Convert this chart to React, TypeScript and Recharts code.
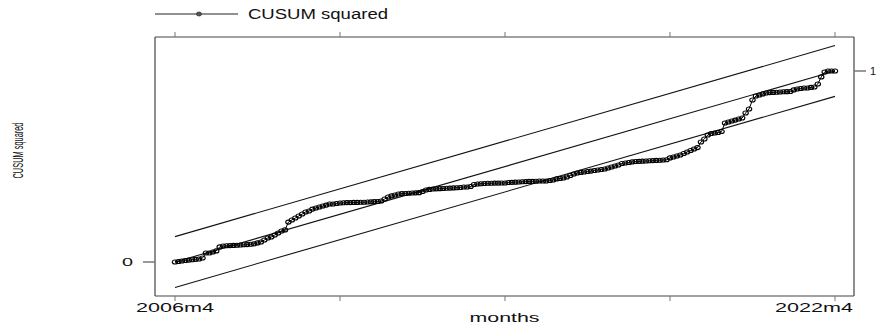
import { LineChart, Line, XAxis, YAxis, Legend } from "recharts"

const FONT = "'Liberation Sans', Arial, Helvetica, sans-serif"

// CUSUM squared, one value per month from 2006m4 (index 0) to 2022m4 (index 192)
const cusumSquared = [
  0, 0.003, 0.005, 0.008, 0.01, 0.012, 0.014, 0.016, 0.021, 0.047, 0.047, 0.052,
  0.058, 0.079, 0.084, 0.085, 0.086, 0.087, 0.088, 0.089, 0.09, 0.091, 0.093, 0.095,
  0.1, 0.105, 0.115, 0.126, 0.131, 0.141, 0.152, 0.162, 0.168, 0.209, 0.22, 0.23,
  0.241, 0.251, 0.262, 0.267, 0.277, 0.283, 0.288, 0.293, 0.298, 0.304, 0.304, 0.306,
  0.309, 0.31, 0.311, 0.311, 0.312, 0.312, 0.313, 0.313, 0.314, 0.315, 0.316, 0.317,
  0.319, 0.33, 0.34, 0.346, 0.351, 0.356, 0.358, 0.359, 0.36, 0.361, 0.362, 0.363,
  0.369, 0.377, 0.38, 0.382, 0.383, 0.384, 0.385, 0.386, 0.387, 0.388, 0.389, 0.39,
  0.393, 0.393, 0.395, 0.406, 0.408, 0.41, 0.411, 0.412, 0.412, 0.413, 0.413, 0.414,
  0.414, 0.416, 0.417, 0.418, 0.419, 0.42, 0.421, 0.422, 0.422, 0.423, 0.424, 0.424,
  0.424, 0.427, 0.429, 0.435, 0.437, 0.44, 0.445, 0.453, 0.461, 0.466, 0.469, 0.471,
  0.474, 0.476, 0.479, 0.482, 0.484, 0.487, 0.492, 0.497, 0.503, 0.508, 0.516, 0.518,
  0.521, 0.524, 0.526, 0.527, 0.528, 0.529, 0.53, 0.531, 0.532, 0.533, 0.534, 0.535,
  0.545, 0.55, 0.555, 0.56, 0.568, 0.576, 0.584, 0.592, 0.599, 0.628, 0.644, 0.665,
  0.673, 0.675, 0.678, 0.683, 0.728, 0.733, 0.738, 0.743, 0.749, 0.754, 0.78, 0.801,
  0.848, 0.869, 0.874, 0.88, 0.885, 0.887, 0.888, 0.889, 0.89, 0.891, 0.892, 0.893,
  0.901, 0.906, 0.908, 0.911, 0.911, 0.914, 0.916, 0.932, 0.969, 0.995, 1, 1,
  1,
]

// straight reference lines: expected path and 5% bounds, at first and last month
const boundMonths = [0, 192]
const expectedLine = [0, 1]
const upperBound = [0.133, 1.133]
const lowerBound = [-0.133, 0.867]

const xTicks = [0, 48, 96, 144, 192]
const xTickLabels = ["2006m4", "", "", "", "2022m4"]
const leftTicks = [0]
const leftTickLabels = ["0"]
const rightTicks = [1]
const rightTickLabels = ["1"]

const xDomain = [-5.82, 197.53]
const yDomain = [-0.178, 1.178]

const seriesData = cusumSquared.map((v, i) => ({ m: i, v }))
const boundsData = boundMonths.map((m, k) => ({
  m,
  expected: expectedLine[k],
  upper: upperBound[k],
  lower: lowerBound[k],
}))

const BottomTick = (props: any) => {
  const { x, y, payload, index } = props
  const label = xTickLabels[xTicks.indexOf(payload.value)] || ""
  if (!label) return <g />
  const last = index === xTicks.length - 1
  return (
    <text
      x={last ? x + 18 : x}
      y={y + 9}
      textAnchor={last ? "end" : "middle"}
      fontFamily={FONT}
      fontSize={13}
      fill="#111"
      textLength={78}
      lengthAdjust="spacingAndGlyphs"
    >
      {label}
    </text>
  )
}

const EmptyTick = () => <g />

const LeftTick = (props: any) => {
  const { x, y, payload } = props
  const label = leftTickLabels[leftTicks.indexOf(payload.value)] || ""
  return (
    <text x={x} y={y + 4} textAnchor="end" fontFamily={FONT} fontSize={10} fill="#111" textLength={11} lengthAdjust="spacingAndGlyphs">
      {label}
    </text>
  )
}

const RightTick = (props: any) => {
  const { x, y, payload } = props
  const label = rightTickLabels[rightTicks.indexOf(payload.value)] || ""
  return (
    <text x={x} y={y + 4} textAnchor="start" fontFamily={FONT} fontSize={10} fill="#111" textLength={6} lengthAdjust="spacingAndGlyphs">
      {label}
    </text>
  )
}

const MonthsTitle = (props: any) => {
  const vb = props.viewBox || { x: 0, y: 0, width: 0, height: 0 }
  return (
    <text x={vb.x + vb.width / 2} y={vb.y + 26} textAnchor="middle" fontFamily={FONT} fontSize={13} fill="#111" textLength={70} lengthAdjust="spacingAndGlyphs">
      months
    </text>
  )
}

const YTitle = (props: any) => {
  const vb = props.viewBox || { x: 0, y: 0, width: 0, height: 0 }
  const cx = vb.x + 23
  const cy = vb.y + vb.height / 2 - 16
  return (
    <text x={cx} y={cy} transform={`rotate(-90, ${cx}, ${cy})`} textAnchor="middle" fontFamily={FONT} fontSize={14} fill="#111" textLength={56} lengthAdjust="spacingAndGlyphs">
      CUSUM squared
    </text>
  )
}

const HollowDot = (props: any) => {
  const { cx, cy, index } = props
  if (cx == null || cy == null) return <g key={`d-${index}`} />
  return <ellipse key={`d-${index}`} cx={cx} cy={cy} rx={2.7} ry={2} fill="none" stroke="#000" strokeWidth={1.1} />
}

const LegendContent = () => (
  <svg width={260} height={28}>
    <line x1={5} y1={14} x2={88} y2={14} stroke="#222" strokeWidth={1} />
    <ellipse cx={49} cy={14} rx={2.6} ry={2} fill="#555" stroke="#333" strokeWidth={0.8} />
    <text x={98} y={18.5} fontFamily={FONT} fontSize={14} fill="#111" textLength={140} lengthAdjust="spacingAndGlyphs">
      CUSUM squared
    </text>
  </svg>
)

export default function App() {
  return (
    <div style={{ position: "absolute", left: 0, top: 0, width: 879, height: 329, background: "#fff" }}>
      <LineChart width={879} height={329} margin={{ top: 0, right: 0, bottom: 0, left: 0 }}>
        <XAxis
          xAxisId="bottom"
          type="number"
          dataKey="m"
          domain={xDomain}
          allowDataOverflow
          ticks={xTicks}
          interval={0}
          height={33}
          tickSize={5}
          tickMargin={2}
          axisLine={{ stroke: "#444", strokeWidth: 1.2 }}
          tickLine={{ stroke: "#777", strokeWidth: 1 }}
          tick={<BottomTick />}
          label={<MonthsTitle />}
        />
        <XAxis
          xAxisId="top"
          orientation="top"
          type="number"
          dataKey="m"
          domain={xDomain}
          allowDataOverflow
          ticks={xTicks}
          interval={0}
          height={37}
          tickSize={5}
          axisLine={{ stroke: "#444", strokeWidth: 1.2 }}
          tickLine={{ stroke: "#777", strokeWidth: 1 }}
          tick={<EmptyTick />}
        />
        <YAxis
          yAxisId="left"
          type="number"
          domain={yDomain}
          allowDataOverflow
          ticks={leftTicks}
          interval={0}
          width={155}
          tickSize={12}
          tickMargin={10}
          axisLine={{ stroke: "#444", strokeWidth: 1.2 }}
          tickLine={{ stroke: "#777", strokeWidth: 1.5 }}
          tick={<LeftTick />}
          label={<YTitle />}
        />
        <YAxis
          yAxisId="right"
          orientation="right"
          type="number"
          domain={yDomain}
          allowDataOverflow
          ticks={rightTicks}
          interval={0}
          width={25}
          tickSize={12}
          tickMargin={4}
          axisLine={{ stroke: "#444", strokeWidth: 1.2 }}
          tickLine={{ stroke: "#777", strokeWidth: 1.5 }}
          tick={<RightTick />}
        />
        <Legend
          verticalAlign="middle"
          align="center"
          layout="horizontal"
          wrapperStyle={{ top: 0, left: 150, width: 260, height: 28 }}
          content={() => <LegendContent />}
        />
        <Line xAxisId="top" yAxisId="right" data={boundsData} dataKey="upper" stroke="#111" strokeWidth={1.1} dot={false} activeDot={false} isAnimationActive={false} legendType="none" />
        <Line xAxisId="top" yAxisId="right" data={boundsData} dataKey="expected" stroke="#111" strokeWidth={1.1} dot={false} activeDot={false} isAnimationActive={false} legendType="none" />
        <Line xAxisId="top" yAxisId="right" data={boundsData} dataKey="lower" stroke="#111" strokeWidth={1.1} dot={false} activeDot={false} isAnimationActive={false} legendType="none" />
        <Line
          xAxisId="bottom"
          yAxisId="left"
          data={seriesData}
          dataKey="v"
          name="CUSUM squared"
          stroke="#000"
          strokeWidth={1}
          dot={(p: any) => <HollowDot key={`dot-${p.index}`} {...p} />}
          activeDot={false}
          isAnimationActive={false}
        />
      </LineChart>
    </div>
  )
}
